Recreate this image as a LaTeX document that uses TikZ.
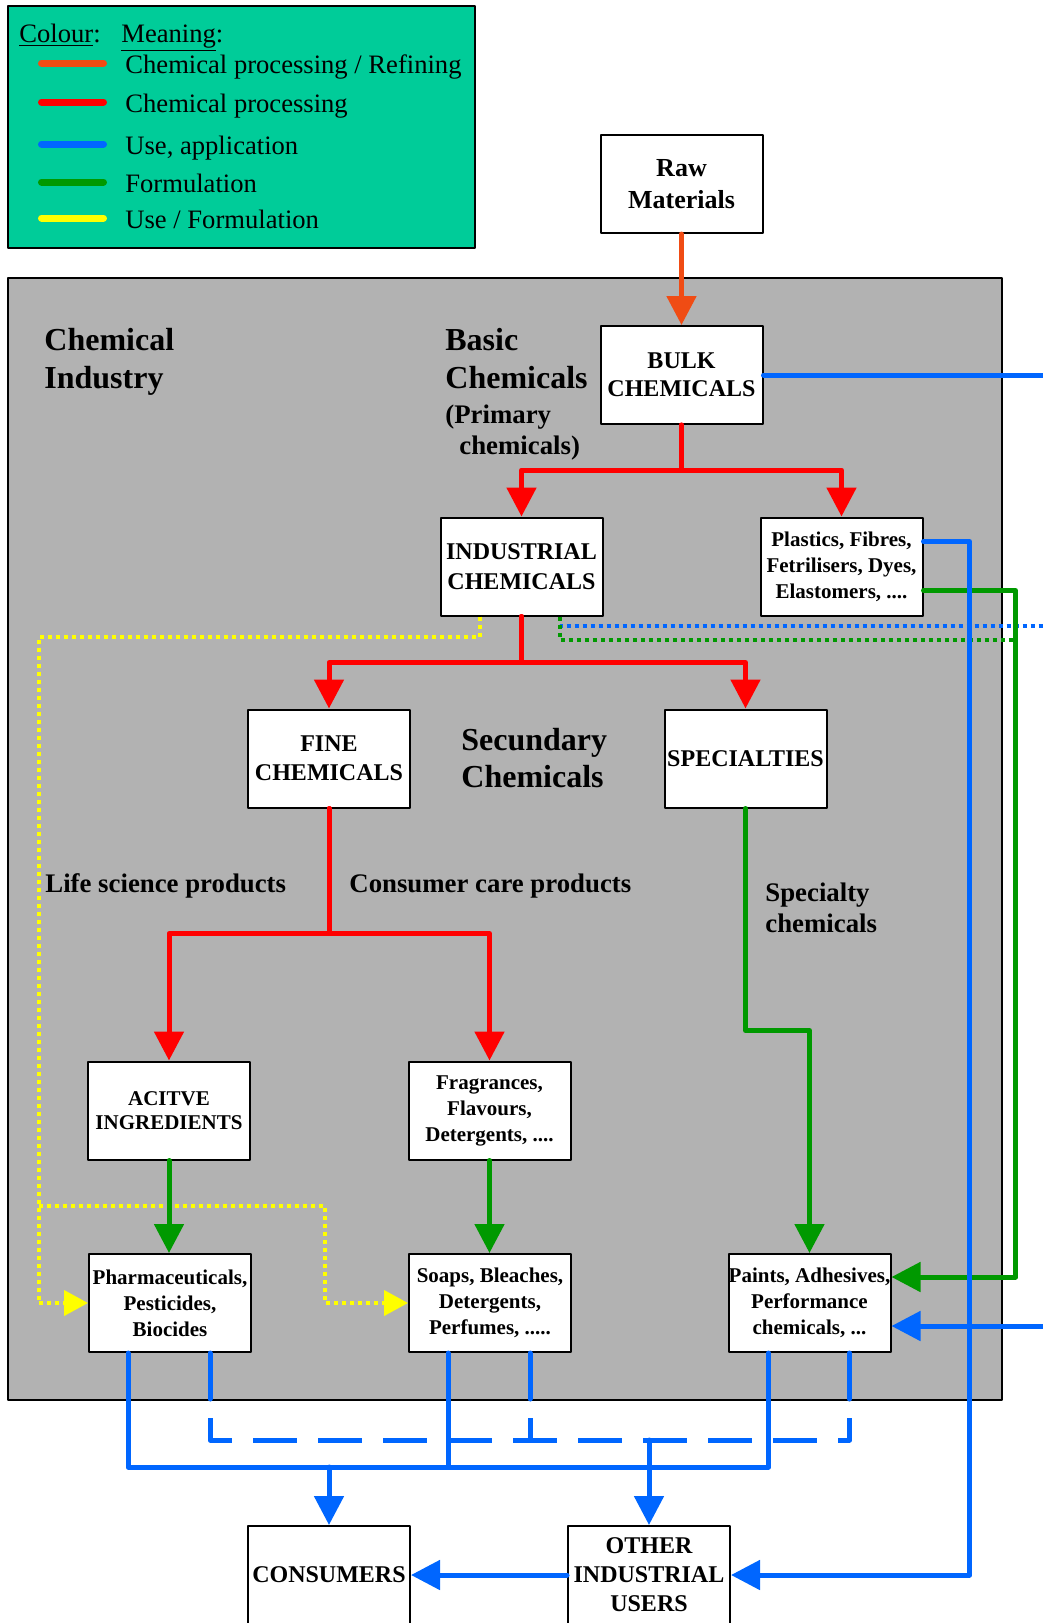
\documentclass[tikz,border=0pt]{standalone}
\usepackage{fontspec}
\setmainfont{Liberation Serif}
\usetikzlibrary{arrows.meta,calc}
\definecolor{legendgreen}{RGB}{0,204,153}
\definecolor{industrygray}{RGB}{178,178,178}
\definecolor{refineorange}{RGB}{240,76,20}
\definecolor{procred}{RGB}{255,0,0}
\definecolor{useblue}{RGB}{0,102,255}
\definecolor{formgreen}{RGB}{0,153,0}
\definecolor{mixyellow}{RGB}{255,255,0}
\begin{document}
\begin{tikzpicture}[x=0.5pt,y=-0.5pt,line cap=round,line join=round]
        \tikzstyle{chembox}=[draw=black,fill=white,line width=1pt,minimum width=81pt,minimum height=49pt,inner sep=0pt,align=center,font=\bfseries\fontsize{12}{14.5}\selectfont]
        \tikzstyle{smallbox}=[chembox,font=\bfseries\fontsize{10.5}{13}\selectfont]
        \tikzstyle{tag}=[anchor=west,inner sep=0pt,align=left,font=\bfseries\fontsize{16}{19}\selectfont]
        \tikzstyle{subtag}=[tag,font=\bfseries\fontsize{13.4}{15.5}\selectfont]
        \tikzstyle{legtext}=[anchor=base west,inner sep=0pt,font=\fontsize{13.3}{15}\selectfont]
        \tikzstyle{flow}=[line width=2.5pt,-{Triangle[length=14.5pt,width=14.5pt]}]
        \tikzstyle{link}=[line width=2.5pt]
        \tikzstyle{dots}=[line width=2pt,line cap=butt,dash pattern=on 2pt off 2pt]
        \tikzstyle{swatch}=[line width=3.5pt]
        \useasboundingbox (0,0) rectangle (1043,1623);
       \begin{scope}
         \draw[fill=legendgreen,line width=1.3pt] (8,6) rectangle (475,248);
         \node[legtext] (colour) at (19,42) {\underline{Colour}:};
         \node[legtext] (meaning) at (121,42) {\underline{Meaning}:};
         \foreach \ly/\col/\txt [count=\i] in {63/refineorange/{Chemical processing / Refining},102/procred/{Chemical processing},144/useblue/{Use, application},182/formgreen/{Formulation},218/mixyellow/{Use / Formulation}}
         {
           \draw[swatch,\col] (41.5,\ly) -- (103.5,\ly);
           \node[legtext] (leg\i) at (125,\ly+10) {\txt};
         }
       \end{scope}
       \begin{scope}
         \draw[fill=industrygray,line width=1pt] (8,278) rectangle (1002,1400);
         \coordinate (offpage) at (1060,0);
         \node[tag] (industry) at (44,361.5) {Chemical\\Industry};
         \node[tag] (basic) at (445,358.5) {Basic\\Chemicals};
         \node[subtag] (primary) at (445,432.5) {(Primary\\\hspace*{7pt}chemicals)};
         \node[tag,font=\bfseries\fontsize{16}{18.5}\selectfont] (secundary) at (461,758.5) {Secundary\\Chemicals};
         \node[subtag] (lifesci) at (45,886) {Life science products};
         \node[subtag] (consumer) at (349,886) {Consumer care products};
         \node[subtag] (specialty) at (765,907.5) {Specialty\\chemicals};
         \node[chembox,font=\bfseries\fontsize{13}{16}\selectfont] (raw) at (681.5,184) {Raw\\Materials};
         \node[chembox,font=\bfseries\fontsize{12}{14}\selectfont] (bulk) at (681.5,375) {BULK\\CHEMICALS};
         \node[chembox,font=\bfseries\fontsize{12}{15}\selectfont] (ind) at (521.5,566.5) {INDUSTRIAL\\CHEMICALS};
         \node[smallbox] (plast) at (841.5,566.5) {Plastics, Fibres,\\Fetrilisers, Dyes,\\Elastomers, ....};
         \node[chembox] (fine) at (329,758.5) {FINE\\CHEMICALS};
         \node[chembox] (spec) at (745.5,758.5) {SPECIALTIES};
         \node[smallbox,font=\bfseries\fontsize{10.5}{12.25}\selectfont] (act) at (169,1110.5) {ACITVE\\INGREDIENTS};
         \node[smallbox] (frag) at (489.5,1110.5) {Fragrances,\\Flavours,\\Detergents, ....};
         \node[smallbox] (pharm) at (170,1303) {Pharmaceuticals,\\Pesticides,\\Biocides};
         \node[smallbox] (soap) at (490,1303) {Soaps, Bleaches,\\Detergents,\\Perfumes, .....};
         \node[smallbox] (paint) at (809.5,1303) {Paints, Adhesives,\\Performance\\chemicals, ...};
         \node[chembox] (cons) at (329,1575) {CONSUMERS};
         \node[chembox,font=\bfseries\fontsize{12}{14.5}\selectfont] (other) at (649,1575) {OTHER\\INDUSTRIAL\\USERS};
         \coordinate (paintin) at ($(paint.east)+(0,23)$);
         \coordinate (busline) at ($(pharm.south)+(-42,114)$);
         \coordinate (dashline) at ($(pharm.south)+(40,87)$);
         \draw[dots,mixyellow,-{Triangle[length=12pt,width=12.5pt]}] ($(ind.south)+(-41.5,0)$) -- ++(0,20) -| ($(pharm.west)+(-49,0)$) -- (pharm.west);
         \draw[dots,mixyellow,-{Triangle[length=12pt,width=12.5pt]}] ($(pharm.west)+(-49,-97)$) -| ($(soap.west)+(-83,0)$) -- (soap.west);
         \draw[dots,useblue] ($(ind.south)+(38.5,0)$) |- ($(offpage)+(0,626)$);
         \draw[dots,formgreen] ($(ind.south)+(38.5,0)$) |- ($(plast.east)+(92,73.5)$);
         \draw[flow,refineorange] (raw) -- (bulk);
         \draw[flow,procred] (bulk.south) -- ++(0,45) -| (ind);
         \draw[flow,procred] (bulk.south) -- ++(0,45) -| (plast);
         \draw[flow,procred] (ind.south) -- ++(0,46) -| (fine);
         \draw[flow,procred] (ind.south) -- ++(0,46) -| (spec);
         \draw[flow,procred] (fine.south) -- ++(0,125) -| (act);
         \draw[flow,procred] (fine.south) -- ++(0,125) -| (frag);
         \draw[flow,formgreen] (act.south) -- (act.south |- pharm.north);
         \draw[flow,formgreen] (frag.south) -- (frag.south |- soap.north);
         \draw[flow,formgreen] (spec.south) -- ++(0,222) -| (paint);
         \draw[flow,formgreen] ($(plast.east)+(0,24)$) -- ++(92,0) |- ($(paint.east)+(0,-26)$);
         \draw[link,useblue] (bulk.east) -- (bulk.east -| offpage);
         \draw[flow,useblue] ($(plast.east)+(0,-25)$) -- ++(46,0) |- (other);
         \draw[flow,useblue] (paintin -| offpage) -- (paintin);
         \draw[flow,useblue] (other) -- (cons);
         \draw[link,useblue] ($(pharm.south)+(-42,0)$) |- ($(paint.south)+(-41,114)$) -- ($(paint.south)+(-41,0)$);
         \draw[link,useblue] ($(soap.south)+(-42,0)$) -- ++(0,114);
         \foreach \b in {pharm,soap,paint}
           \draw[link,useblue] ($(\b.south)+(40,0)$) -- ++(0,46);
         \draw[link,useblue,line cap=butt,dash pattern=on 22pt off 10.5pt] ($(pharm.south)+(40,65)$) |- ($(paint.south)+(40,87)$) -- ($(paint.south)+(40,65)$);
         \draw[link,useblue,line cap=butt] ($(soap.south)+(40,65)$) -- ++(0,22);
         \draw[flow,useblue] (busline -| cons) -- (cons);
         \draw[flow,useblue] (dashline -| other) -- (other);
        \end{scope}
      \end{tikzpicture}
\end{document}
